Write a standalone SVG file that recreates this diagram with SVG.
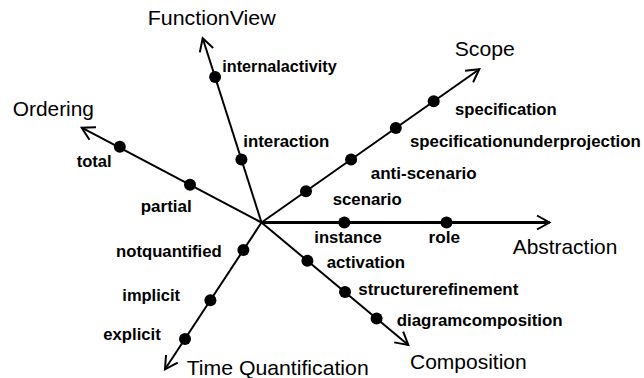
<svg xmlns="http://www.w3.org/2000/svg" width="644" height="378" viewBox="0 0 644 378">
<style>
.ax{stroke:#000;stroke-width:2;fill:none;marker-end:url(#arr)}
.ax3{stroke-width:3}
.dot{fill:#000}
.v{font-family:"Liberation Sans",Arial,sans-serif;font-weight:bold;font-size:16.5px;fill:#000}
.t{font-family:"Liberation Sans",Arial,sans-serif;font-size:21px;fill:#000}
</style>
<defs>
<marker id="arr" markerUnits="userSpaceOnUse" markerWidth="20" markerHeight="20" viewBox="-14 -10 16 20" refX="0" refY="0" orient="auto">
<path d="M-12.5,-7 L0,0 L-12.5,7" fill="none" stroke="#000" stroke-width="2"/>
</marker>
</defs>
<rect width="644" height="378" fill="#fff"/>
<g id="connectors">
<line class="ax ax3" x1="261.5" y1="222.5" x2="549.5" y2="222.5"/>
<line class="ax" x1="261.5" y1="222.5" x2="202.7" y2="38.3"/>
<line class="ax" x1="261.5" y1="222.5" x2="81.7" y2="127.7"/>
<line class="ax" x1="261.5" y1="222.5" x2="479.3" y2="69.3"/>
<line class="ax" x1="261.5" y1="222.5" x2="408.3" y2="345"/>
<line class="ax" x1="261.5" y1="222.5" x2="165" y2="369.3"/>
</g>
<g id="axis-abstraction">
<text class="t" x="512.7" y="254.3" textLength="104.6" lengthAdjust="spacingAndGlyphs">Abstraction</text>
<g id="instance"><circle class="dot" cx="344.3" cy="222.5" r="6"/><text class="v" x="314.3" y="243.3" textLength="67.4" lengthAdjust="spacingAndGlyphs">instance</text></g>
<g id="role"><circle class="dot" cx="446.5" cy="222.5" r="6"/><text class="v" x="428.5" y="243.3" textLength="31.5" lengthAdjust="spacingAndGlyphs">role</text></g>
</g>
<g id="axis-functionview">
<text class="t" x="147.7" y="25" textLength="128" lengthAdjust="spacingAndGlyphs">FunctionView</text>
<g id="internalactivity"><circle class="dot" cx="215.1" cy="77" r="6"/><text class="v" x="222.3" y="72" textLength="114.4" lengthAdjust="spacingAndGlyphs">internalactivity</text></g>
<g id="interaction"><circle class="dot" cx="241.4" cy="159.4" r="6"/><text class="v" x="243.3" y="147.3" textLength="86" lengthAdjust="spacingAndGlyphs">interaction</text></g>
</g>
<g id="axis-ordering">
<text class="t" x="12.7" y="115.5" textLength="81.3" lengthAdjust="spacingAndGlyphs">Ordering</text>
<g id="total"><circle class="dot" cx="119.8" cy="146.8" r="6"/><text class="v" x="76.7" y="166.7" textLength="35" lengthAdjust="spacingAndGlyphs">total</text></g>
<g id="partial"><circle class="dot" cx="190" cy="184.8" r="6"/><text class="v" x="140.7" y="211.7" textLength="51" lengthAdjust="spacingAndGlyphs">partial</text></g>
</g>
<g id="axis-scope">
<text class="t" x="454.7" y="56" textLength="60" lengthAdjust="spacingAndGlyphs">Scope</text>
<g id="specification"><circle class="dot" cx="433.7" cy="101.3" r="6"/><text class="v" x="455" y="115" textLength="101.7" lengthAdjust="spacingAndGlyphs">specification</text></g>
<g id="specificationunderprojection"><circle class="dot" cx="395.8" cy="128" r="6"/><text class="v" x="410" y="147.3" textLength="230.7" lengthAdjust="spacingAndGlyphs">specificationunderprojection</text></g>
<g id="anti-scenario"><circle class="dot" cx="351.1" cy="159.5" r="6"/><text class="v" x="370.7" y="179.3" textLength="106" lengthAdjust="spacingAndGlyphs">anti-scenario</text></g>
<g id="scenario"><circle class="dot" cx="306" cy="191.2" r="6"/><text class="v" x="332.7" y="205" textLength="69" lengthAdjust="spacingAndGlyphs">scenario</text></g>
</g>
<g id="axis-composition">
<text class="t" x="410" y="369" textLength="116.7" lengthAdjust="spacingAndGlyphs">Composition</text>
<g id="activation"><circle class="dot" cx="307.4" cy="260.8" r="6"/><text class="v" x="326.7" y="268.3" textLength="78.3" lengthAdjust="spacingAndGlyphs">activation</text></g>
<g id="structurerefinement"><circle class="dot" cx="345" cy="292.1" r="6"/><text class="v" x="358.3" y="295" textLength="160" lengthAdjust="spacingAndGlyphs">structurerefinement</text></g>
<g id="diagramcomposition"><circle class="dot" cx="376.6" cy="318.5" r="6"/><text class="v" x="396.7" y="326" textLength="166" lengthAdjust="spacingAndGlyphs">diagramcomposition</text></g>
</g>
<g id="axis-timequantification">
<text class="t" x="186.7" y="375" textLength="182" lengthAdjust="spacingAndGlyphs">Time Quantification</text>
<g id="notquantified"><circle class="dot" cx="243.4" cy="250" r="6"/><text class="v" x="116" y="256.7" textLength="105.7" lengthAdjust="spacingAndGlyphs">notquantified</text></g>
<g id="implicit"><circle class="dot" cx="210.4" cy="300.2" r="6"/><text class="v" x="122.3" y="300.7" textLength="57.7" lengthAdjust="spacingAndGlyphs">implicit</text></g>
<g id="explicit"><circle class="dot" cx="185" cy="338.9" r="6"/><text class="v" x="103.3" y="340" textLength="57.4" lengthAdjust="spacingAndGlyphs">explicit</text></g>
</g>
</svg>
